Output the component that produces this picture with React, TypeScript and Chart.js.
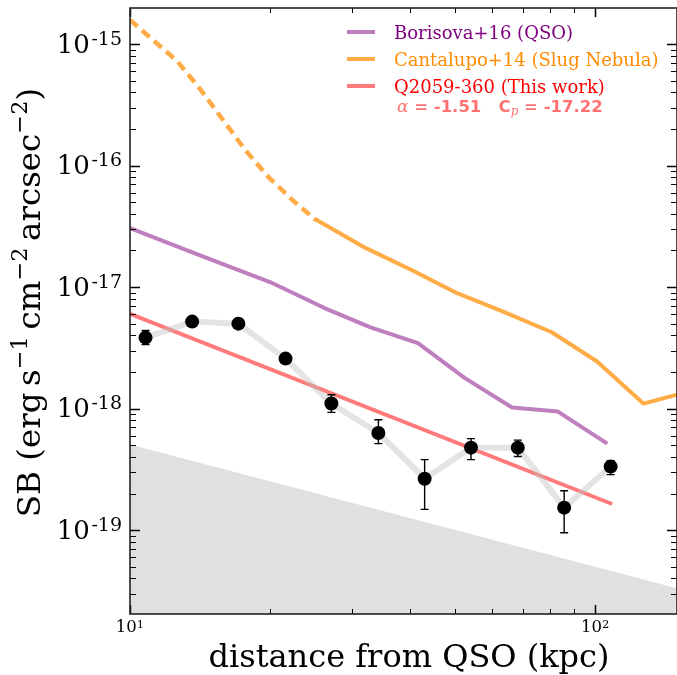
import React, { useEffect, useRef } from 'react';
import { Chart, registerables } from 'chart.js';

Chart.register(...registerables);

// ---------- data ----------
const radii = [10.8, 13.6, 17.1, 21.6, 27.1, 34.2, 43.0, 54.1, 68.2, 85.8, 108];
const sb = [3.84e-18, 5.2e-18, 5.0e-18, 2.58e-18, 1.1e-18, 6.3e-19, 2.65e-19, 4.77e-19, 4.77e-19, 1.53e-19, 3.33e-19];
const sbLow = [3.36e-18, 4.85e-18, 4.67e-18, 2.41e-18, 9.3e-19, 5.15e-19, 1.48e-19, 3.8e-19, 4.03e-19, 9.5e-20, 2.86e-19];
const sbHigh = [4.39e-18, 5.57e-18, 5.36e-18, 2.76e-18, 1.3e-18, 8.1e-19, 3.8e-19, 5.66e-19, 5.5e-19, 2.11e-19, 3.73e-19];

const fitR = [10, 108.8];
const fitSB = [6.03e-18, 1.64e-19];

const borR = [10, 14.1, 20.0, 26.2, 32.8, 41.6, 52.5, 66.3, 83.2, 106.2];
const borSB = [3.06e-17, 1.83e-17, 1.10e-17, 6.72e-18, 4.69e-18, 3.46e-18, 1.78e-18, 1.02e-18, 9.45e-19, 5.15e-19];

const slugDashR = [10, 11.2, 12.6, 14.1, 15.85, 17.7, 19.9, 22.3, 25.1];
const slugDashSB = [1.58e-15, 1.08e-15, 7.31e-16, 4.34e-16, 2.37e-16, 1.34e-16, 7.96e-17, 5.24e-17, 3.56e-17];

const slugR = [25.1, 32.0, 40.2, 50.5, 64, 80.7, 101, 127, 150];
const slugSB = [3.6e-17, 2.11e-17, 1.39e-17, 8.9e-18, 6.2e-18, 4.25e-18, 2.44e-18, 1.1e-18, 1.3e-18];

const limR = [10, 150];
const limSB = [5.06e-19, 3.33e-20];

const xTickExps = [1, 2];
const yTickExps = [-15, -16, -17, -18, -19];

const legendLabels = ['Borisova+16 (QSO)', 'Cantalupo+14 (Slug Nebula)', 'Q2059-360 (This work)'];
const legendLineColors = ['rgba(128,0,128,0.5)', 'rgba(255,140,0,0.72)', 'rgba(255,0,0,0.52)'];
const legendTextColors = ['#800080', '#ff8c00', '#ff0000'];

const fitAlpha = '-1.51';
const fitCp = '-17.22';

const SERIF = '"DejaVu Serif", serif';
const SANS = '"DejaVu Sans", sans-serif';

const pts = (xs: number[], ys: number[]) => xs.map((x, i) => ({ x, y: ys[i] }));

type Run = { t: string; font: string; dy?: number; gap?: number };

function runsWidth(ctx: CanvasRenderingContext2D, runs: Run[]) {
  let w = 0;
  for (const r of runs) {
    ctx.font = r.font;
    w += (r.gap || 0) + ctx.measureText(r.t).width;
  }
  return w;
}

function drawRuns(ctx: CanvasRenderingContext2D, runs: Run[], x: number, y: number) {
  let cx = x;
  for (const r of runs) {
    ctx.font = r.font;
    cx += r.gap || 0;
    ctx.fillText(r.t, cx, y + (r.dy || 0));
    cx += ctx.measureText(r.t).width;
  }
  return cx;
}

const errorBarPlugin = {
  id: 'errbars',
  beforeDatasetDraw(chart: any, args: any) {
    const ds = chart.data.datasets[args.index];
    if (ds.label !== 'points') return;
    const ctx = chart.ctx as CanvasRenderingContext2D;
    const xs = chart.scales.x;
    const ys = chart.scales.y;
    ctx.save();
    ctx.strokeStyle = '#000';
    ctx.lineWidth = 1.4;
    radii.forEach((r, i) => {
      const px = xs.getPixelForValue(r);
      const y1 = ys.getPixelForValue(sbLow[i]);
      const y2 = ys.getPixelForValue(sbHigh[i]);
      ctx.beginPath();
      ctx.moveTo(px, y1);
      ctx.lineTo(px, y2);
      ctx.moveTo(px - 4, y1);
      ctx.lineTo(px + 4, y1);
      ctx.moveTo(px - 4, y2);
      ctx.lineTo(px + 4, y2);
      ctx.stroke();
    });
    ctx.restore();
  },
};

const decorPlugin = {
  id: 'decor',
  afterDraw(chart: any) {
    const ctx = chart.ctx as CanvasRenderingContext2D;
    const { left, right, top, bottom } = chart.chartArea;
    const xs = chart.scales.x;
    const ys = chart.scales.y;
    ctx.save();
    ctx.strokeStyle = '#000';

    const line = (x1: number, y1: number, x2: number, y2: number) => {
      ctx.beginPath();
      ctx.moveTo(x1, y1);
      ctx.lineTo(x2, y2);
      ctx.stroke();
    };

    // y ticks (left and right, inward)
    for (let e = -21; e <= -14; e++) {
      for (let m = 1; m <= 9; m++) {
        const v = m * Math.pow(10, e);
        if (v < ys.min * 0.999 || v > ys.max * 1.001) continue;
        const py = Math.round(ys.getPixelForValue(v)) + 0.5;
        const major = m === 1;
        ctx.lineWidth = major ? 1.5 : 1;
        const len = major ? 10 : 6;
        line(left, py, left + len, py);
        line(right, py, right - len, py);
      }
    }
    // x ticks (bottom and top, inward)
    for (let e = 0; e <= 3; e++) {
      for (let m = 1; m <= 9; m++) {
        const v = m * Math.pow(10, e);
        if (v < xs.min * 0.999 || v > xs.max * 1.001) continue;
        const px = Math.round(xs.getPixelForValue(v)) + 0.5;
        const major = m === 1;
        ctx.lineWidth = major ? 1.5 : 1;
        const len = major ? 9 : 5;
        line(px, bottom, px, bottom - len);
        line(px, top, px, top + len);
      }
    }

    // spines
    ctx.lineWidth = 1.6;
    ctx.strokeStyle = '#222';
    ctx.strokeRect(left, top, right - left, bottom - top);

    ctx.fillStyle = '#000';
    ctx.textBaseline = 'alphabetic';

    // y tick labels
    yTickExps.forEach((e) => {
      const py = ys.getPixelForValue(Math.pow(10, e));
      const runs: Run[] = [
        { t: '10', font: `26px ${SERIF}` },
        { t: String(e), font: `19px ${SERIF}`, dy: -8, gap: 1.5 },
      ];
      const w = runsWidth(ctx, runs);
      drawRuns(ctx, runs, 122 - w, py + 8.5);
    });

    // x tick labels
    xTickExps.forEach((e) => {
      const px = xs.getPixelForValue(Math.pow(10, e));
      const runs: Run[] = [
        { t: '10', font: `16.5px ${SERIF}` },
        { t: String(e), font: `11.5px ${SERIF}`, dy: -4 },
      ];
      const w = runsWidth(ctx, runs);
      drawRuns(ctx, runs, px - w / 2, 632);
    });

    // x title
    ctx.font = `32px ${SERIF}`;
    ctx.textAlign = 'center';
    ctx.fillText('distance from QSO (kpc)', 409, 667);
    ctx.textAlign = 'left';

    // y title (rotated)
    const big = `32.5px ${SERIF}`;
    const sup = `22.5px ${SERIF}`;
    const yRuns: Run[] = [
      { t: 'SB (erg\u2009s', font: big },
      { t: '\u22121', font: sup, dy: -13 },
      { t: '\u2009cm', font: big },
      { t: '\u22122', font: sup, dy: -13 },
      { t: '\u2009arcsec', font: big },
      { t: '\u22122', font: sup, dy: -13 },
      { t: ')', font: big },
    ];
    const yw = runsWidth(ctx, yRuns);
    ctx.save();
    ctx.translate(40, 302.5);
    ctx.rotate(-Math.PI / 2);
    drawRuns(ctx, yRuns, -yw / 2, 0);
    ctx.restore();

    // legend
    const lineYs = [32, 59, 86];
    legendLabels.forEach((lab, i) => {
      ctx.strokeStyle = legendLineColors[i];
      ctx.lineWidth = 4;
      ctx.lineCap = 'butt';
      line(347, lineYs[i], 375, lineYs[i]);
      ctx.fillStyle = legendTextColors[i];
      ctx.font = `18px ${SERIF}`;
      ctx.fillText(lab, 394, lineYs[i] + 7);
    });

    // fit parameters
    ctx.fillStyle = 'rgba(255,0,0,0.56)';
    const bold = `bold 16.5px ${SANS}`;
    const fitRuns: Run[] = [
      { t: '\u03b1', font: `italic 17px ${SERIF}` },
      { t: ' = ' + fitAlpha + '   C', font: bold },
      { t: 'p', font: `italic 12px ${SERIF}`, dy: 3 },
      { t: ' = ' + fitCp, font: bold },
    ];
    drawRuns(ctx, fitRuns, 397, 112);

    ctx.restore();
  },
};

export default function App() {
  const ref = useRef<HTMLCanvasElement | null>(null);

  useEffect(() => {
    if (!ref.current) return;
    const chart = new Chart(ref.current, {
      type: 'line',
      data: {
        datasets: [
          {
            label: 'points',
            data: pts(radii, sb),
            showLine: false,
            pointRadius: 7,
            pointBackgroundColor: '#000',
            pointBorderWidth: 0,
            borderColor: '#000',
            order: 0,
          },
          {
            label: 'connect',
            data: pts(radii, sb),
            borderColor: 'rgba(190,190,190,0.42)',
            borderWidth: 6,
            pointRadius: 0,
            borderJoinStyle: 'round',
            order: 1,
          },
          {
            label: 'fit',
            data: pts(fitR, fitSB),
            borderColor: legendLineColors[2],
            borderWidth: 4,
            pointRadius: 0,
            order: 2,
          },
          {
            label: 'slug',
            data: pts(slugR, slugSB),
            borderColor: legendLineColors[1],
            borderWidth: 4,
            pointRadius: 0,
            borderJoinStyle: 'round',
            order: 3,
          },
          {
            label: 'slugDash',
            data: pts(slugDashR, slugDashSB),
            borderColor: legendLineColors[1],
            borderWidth: 4.5,
            borderDash: [10, 6],
            pointRadius: 0,
            order: 3,
          },
          {
            label: 'borisova',
            data: pts(borR, borSB),
            borderColor: legendLineColors[0],
            borderWidth: 4,
            pointRadius: 0,
            borderJoinStyle: 'round',
            order: 4,
          },
          {
            label: 'limit',
            data: pts(limR, limSB),
            borderWidth: 0,
            borderColor: 'rgba(0,0,0,0)',
            backgroundColor: '#e0e0e0',
            fill: 'start',
            pointRadius: 0,
            order: 5,
          },
        ],
      },
      options: {
        animation: false,
        responsive: false,
        events: [],
        layout: { autoPadding: false, padding: { top: 8, right: 0, left: 0, bottom: 0 } },
        plugins: { legend: { display: false }, tooltip: { enabled: false } },
        scales: {
          x: {
            type: 'logarithmic',
            min: 10,
            max: 150,
            ticks: { display: false },
            grid: { display: false },
            border: { display: false },
            afterFit: (s: any) => {
              s.height = 61;
            },
          },
          y: {
            type: 'logarithmic',
            min: 2.04e-20,
            max: 1.98e-15,
            ticks: { display: false },
            grid: { display: false },
            border: { display: false },
            afterFit: (s: any) => {
              s.width = 130;
            },
          },
        },
      } as any,
      plugins: [errorBarPlugin, decorPlugin],
    });
    return () => chart.destroy();
  }, []);

  return (
    <div style={{ position: 'absolute', left: 0, top: 0, width: 677, height: 675, background: '#fff' }}>
      <canvas ref={ref} width={677} height={675} style={{ display: 'block' }} />
    </div>
  );
}
